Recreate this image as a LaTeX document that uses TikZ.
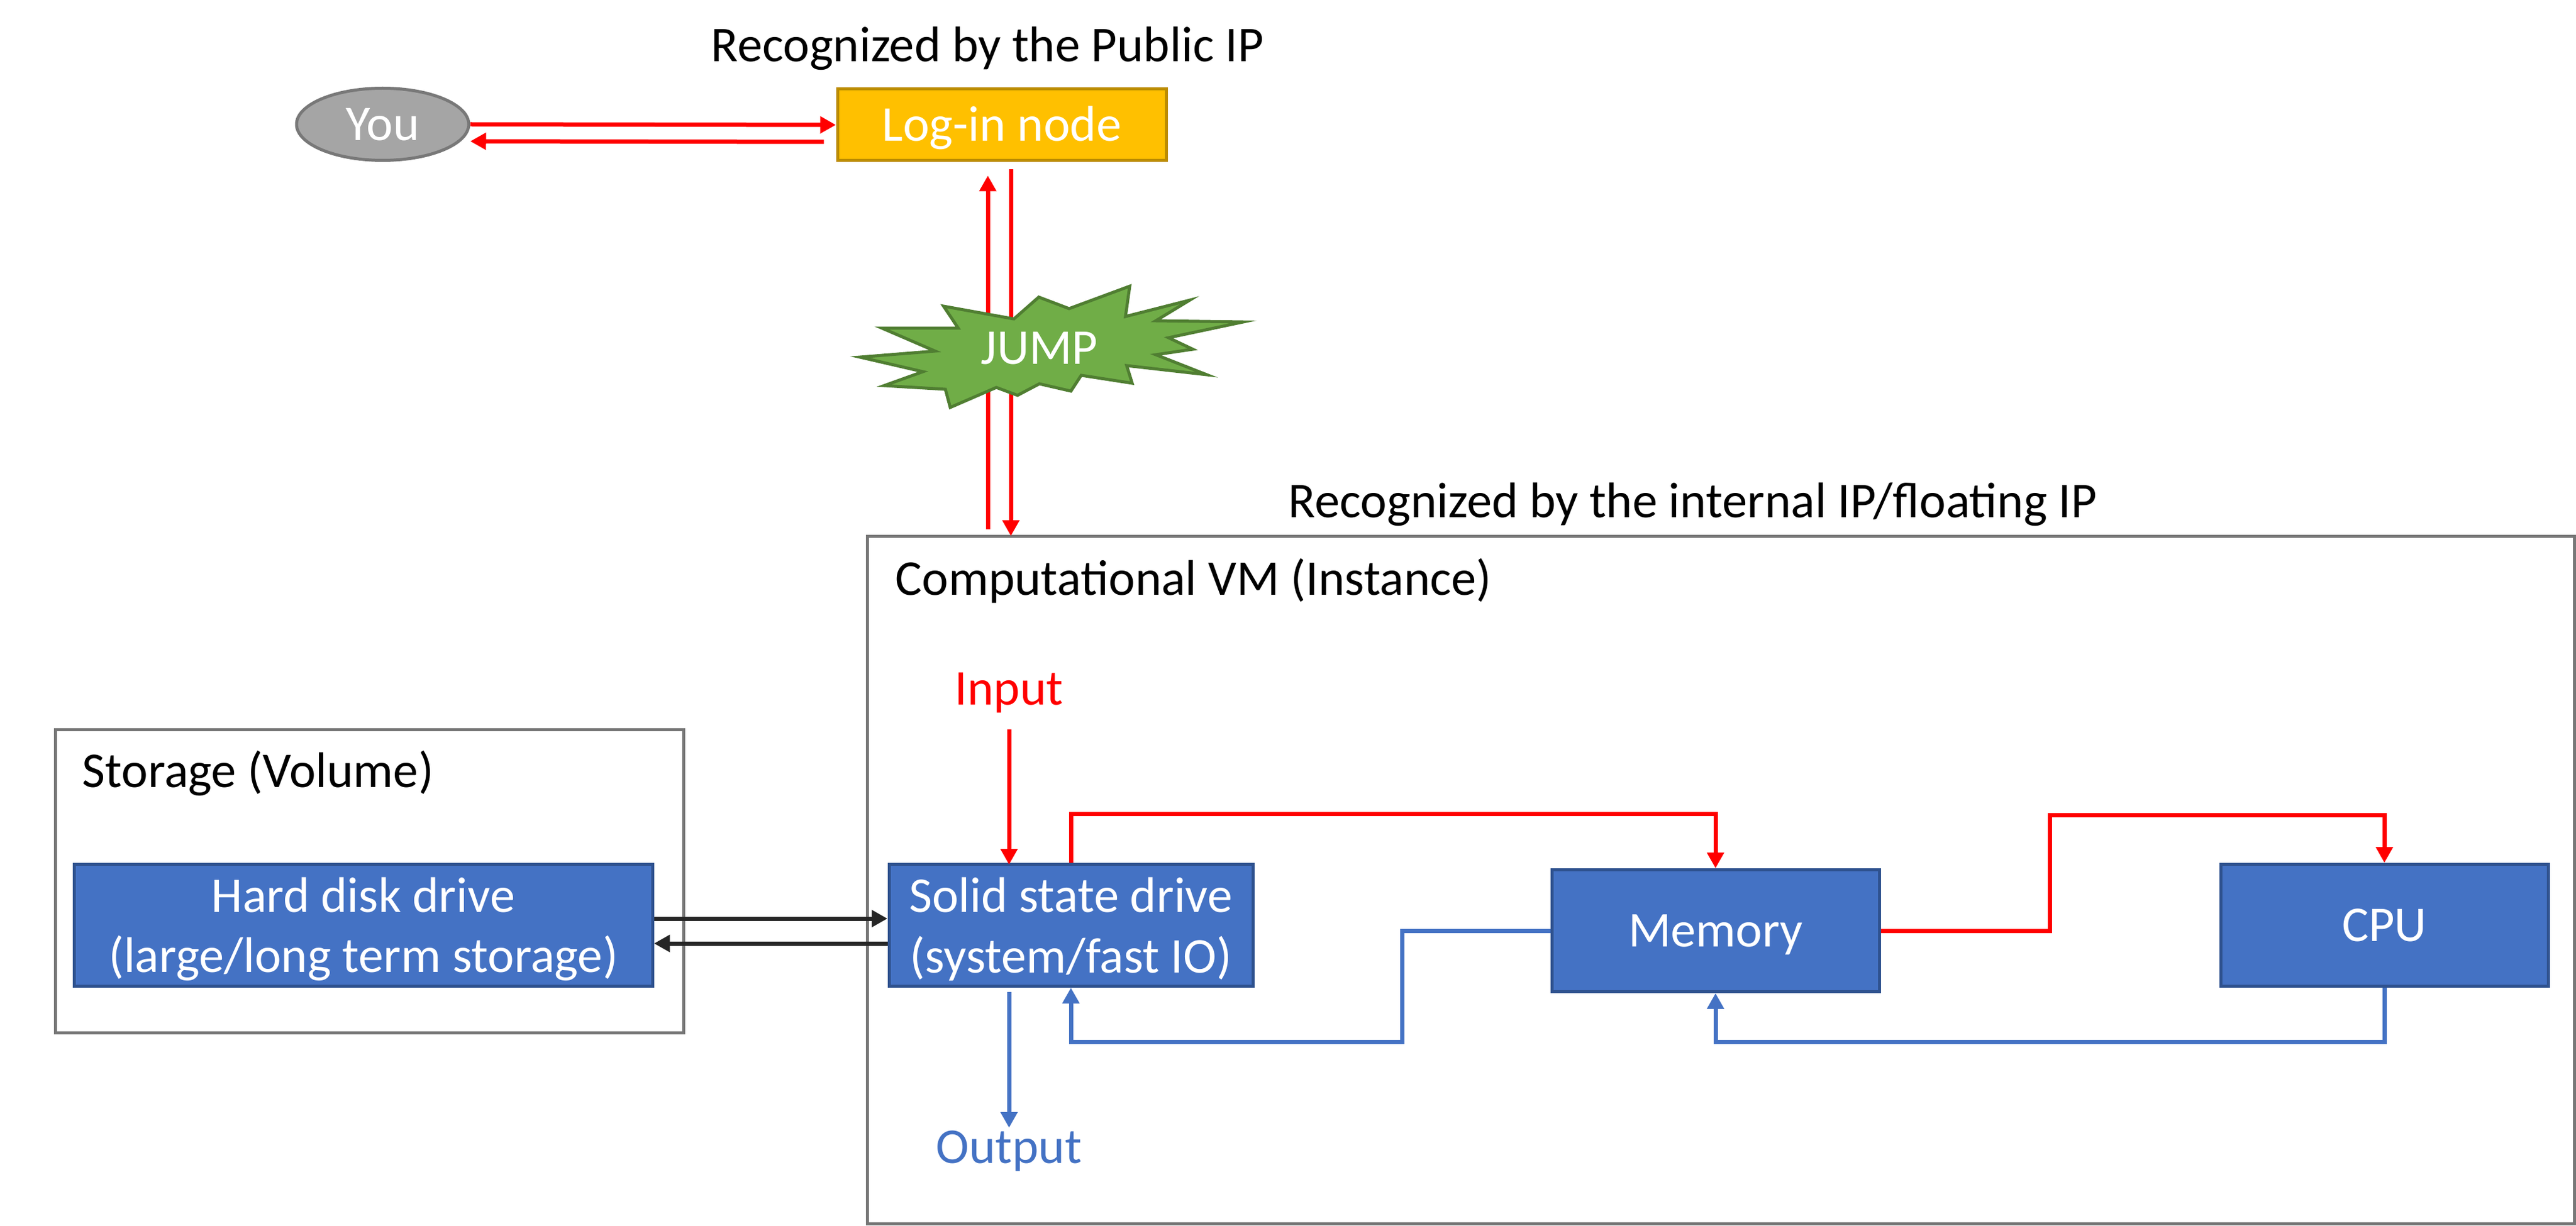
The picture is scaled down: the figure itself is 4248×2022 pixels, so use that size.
\documentclass[tikz,border=0pt]{standalone}
\usepackage{fontspec}
\setmainfont{Carlito}
\usetikzlibrary{arrows.meta, calc, shapes.geometric}

\definecolor{boxblue}{HTML}{4472C4}
\definecolor{boxbluedark}{HTML}{2F528F}
\definecolor{loginfill}{HTML}{FFC000}
\definecolor{loginedge}{HTML}{BC8C00}
\definecolor{youfill}{HTML}{A5A5A5}
\definecolor{youedge}{HTML}{787878}
\definecolor{jumpfill}{HTML}{70AD47}
\definecolor{jumpedge}{HTML}{507E32}
\definecolor{framegray}{HTML}{767676}
\definecolor{linkblack}{HTML}{262626}

\tikzset{
    hw/.style={draw=boxbluedark,fill=boxblue,text=white,line width=0.5mm,align=center,inner sep=0pt},
    framebox/.style={draw=framegray,line width=0.5mm,inner sep=0pt},
    label/.style={anchor=base west,inner sep=0pt},
    capline/.style={text height=17pt,text depth=2.2pt,inner sep=0pt},
    link/.style={line width=0.7mm,-{Triangle[length=2.6mm,width=2.7mm]}},
    redlink/.style={link,draw=red},
    bluelink/.style={link,draw=boxblue},
    blacklink/.style={link,draw=linkblack}
}

\begin{document}
\begin{tikzpicture}[x=0.1mm,y=-0.1mm,font=\fontsize{23.5}{28.4}\selectfont]
    \useasboundingbox (0,0) rectangle (4248,2022);

    % Top row
    \node[ellipse,draw=youedge,fill=youfill,text=white,line width=0.5mm,capline,minimum width=28.4mm,minimum height=11.9mm] (you) at (631,205) {You};
    \node[rectangle,draw=loginedge,fill=loginfill,text=white,line width=0.5mm,capline,minimum width=54.2mm,minimum height=11.8mm] (login) at (1652,206) {Log-in node};
    \node[label] (publiclabel) at (1172,102) {Recognized by the Public IP};

    % Frames
    \node[framebox,minimum width=281.5mm,minimum height=113.4mm] (vm) at (2837.5,1451) {};
    \node[framebox,minimum width=103.6mm,minimum height=50mm] (storage) at (609,1453) {};
    \node[label] (internallabel) at (2124,853) {Recognized by the internal IP/floating IP};
    \node[label] (vmlabel) at (1476,981) {Computational VM (Instance)};
    \node[label] (storagelabel) at (135,1298) {Storage (Volume)};

    % Drives, memory and CPU
    \node[hw,minimum width=95.4mm,minimum height=20.1mm] (hdd) at (599,1526) {\rule{0pt}{20pt}Hard disk drive\\(large/long term storage)};
    \node[hw,minimum width=60mm,minimum height=20.1mm] (ssd) at (1766,1526) {\rule{0pt}{20pt}Solid state drive\\(system/fast IO)};
    \node[hw,capline,minimum width=54mm,minimum height=20.1mm] (mem) at (2829,1535) {Memory};
    \node[hw,capline,minimum width=54mm,minimum height=20.1mm] (cpu) at (3932,1526) {CPU};

    \node[label,anchor=base,text=red] (input) at (1664,1162) {Input};
    \node[label,anchor=base,text=boxblue] (output) at (1664,1918) {Output};

    % You and the log-in node
    \draw[redlink] (you.east) -- (login.west);
    \draw[redlink] ($(login.west)+(-20,28)$) -- ($(you.east)+(0,28)$);

    % Log-in node and the VM, behind the burst
    \draw[redlink] (1629,873) -- ($(login.south)+(-23,22)$);
    \draw[redlink] ($(login.south)+(15,12)$) -- (1667,884);

    % Burst
    \draw[draw=jumpedge,fill=jumpfill,line width=0.5mm,line join=miter]
        (1418,589) -- (1542,579) -- (1454,541) -- (1580,541) -- (1556,505) -- (1672,526) -- (1713,490)
        -- (1763,509) -- (1863,472) -- (1856,522) -- (1962,495) -- (1906,529) -- (2050,531) -- (1927,557)
        -- (1967,576) -- (1906,585) -- (1990,618) -- (1858,603) -- (1867,632) -- (1783,619) -- (1766,645)
        -- (1714,633) -- (1678,652) -- (1643,639) -- (1567,672) -- (1559,642) -- (1458,636) -- (1522,613) -- cycle;
    \node[capline,text=white] (jump) at (1714,574) {JUMP};

    % Storage links
    \draw[blacklink] ($(hdd.east)+(0,-11)$) -- ($(ssd.west)+(0,-11)$);
    \draw[blacklink] ($(ssd.west)+(0,30)$) -- ($(hdd.east)+(0,30)$);

    % Input and output
    \draw[redlink] (1664,1203) -- (1664,1426);
    \draw[bluelink] (1664,1636) -- (1664,1860);

    % Data path
    \draw[redlink] (ssd.north) -- ++(0,-81) -| (mem.north);
    \draw[redlink] (mem.east) -- ++(279,0) -- ++(0,-191) -| (cpu.north);
    \draw[bluelink] (cpu.south) -- ++(0,89) -| (mem.south);
    \draw[bluelink] (mem.west) -- ++(-244,0) -- ++(0,183) -| (ssd.south);
\end{tikzpicture}
\end{document}
